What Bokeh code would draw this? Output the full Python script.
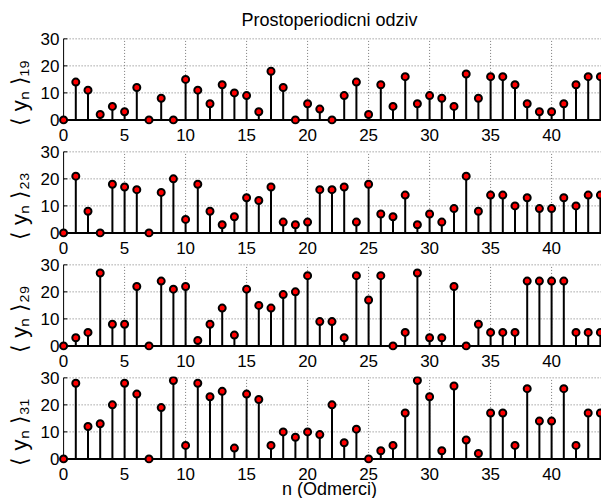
from bokeh.plotting import figure
from bokeh.layouts import column
from bokeh.models import Range1d, FixedTicker
from bokeh.embed import file_html
from bokeh.resources import INLINE

FONT = "Liberation Sans"

n = list(range(45))
x_ticks = [0, 5, 10, 15, 20, 25, 30, 35, 40]
y_ticks = [0, 10, 20, 30]

y19 = [0, 14, 11, 2, 5, 3, 12, 0, 8, 0, 15, 11, 6, 13, 10, 9, 3, 18, 12, 0, 6, 4, 0,
       9, 14, 2, 13, 5, 16, 6, 9, 8, 5, 17, 8, 16, 16, 13, 6, 3, 3, 6, 13, 16, 16]
y23 = [0, 21, 8, 0, 18, 17, 16, 0, 15, 20, 5, 18, 8, 3, 6, 13, 12, 17, 4, 3, 4, 16, 16,
       17, 4, 18, 7, 6, 14, 3, 7, 4, 9, 21, 8, 14, 14, 10, 13, 9, 9, 13, 10, 14, 14]
y29 = [0, 3, 5, 27, 8, 8, 22, 0, 24, 21, 22, 2, 8, 14, 4, 21, 15, 14, 19, 20, 26, 9, 9,
       3, 26, 17, 26, 0, 5, 27, 3, 3, 22, 0, 8, 5, 5, 5, 24, 24, 24, 24, 5, 5, 5]
y31 = [0, 28, 12, 13, 20, 28, 24, 0, 19, 29, 5, 28, 23, 25, 4, 24, 22, 5, 10, 8, 10, 9, 20,
       6, 11, 0, 3, 5, 17, 29, 23, 3, 27, 7, 2, 17, 17, 5, 26, 14, 14, 26, 5, 17, 17]

series = [y19, y23, y29, y31]
PAD = "\u00a0" * 4
ylabels = ["⟨ yₙ ⟩₁₉" + PAD, "⟨ yₙ ⟩₂₃" + PAD, "⟨ yₙ ⟩₂₉" + PAD, "⟨ yₙ ⟩₃₁" + PAD]
title_text = "Prostoperiodicni odziv"
xlabel_text = "n (Odmerci)"

X_START, X_END = -0.5, 44.09
Y_START, Y_END = -1.7, 30.5
GRID = "#777777"


def make(vals, ylabel, first=False, last=False):
    p = figure(output_backend="svg", toolbar_location=None,
               frame_width=544, frame_height=87,
               x_range=Range1d(X_START, X_END), y_range=Range1d(Y_START, Y_END),
               min_border_left=57, min_border_right=0,
               min_border_top=36 if first else 6,
               min_border_bottom=33 if last else 20,
               outline_line_color=None,
               background_fill_color="white", border_fill_color="white")
    p.xgrid.visible = False
    p.ygrid.visible = False

    # dotted grid
    p.segment(x0=x_ticks[1:], y0=y_ticks[0], x1=x_ticks[1:], y1=y_ticks[-1],
              line_color=GRID, line_width=1, line_dash="1 2")
    p.segment(x0=x_ticks[0], y0=y_ticks[1:], x1=X_END, y1=y_ticks[1:],
              line_color=GRID, line_width=1, line_dash="1 2")

    # axis line and ticks
    p.segment(x0=x_ticks[0], y0=y_ticks[0], x1=x_ticks[0], y1=y_ticks[-1],
              line_color="black", line_width=1)
    p.segment(x0=x_ticks[0], y0=y_ticks, x1=0.3, y1=y_ticks,
              line_color="black", line_width=1)
    p.segment(x0=x_ticks, y0=y_ticks[0], x1=x_ticks, y1=1.1,
              line_color="black", line_width=1)

    # baseline
    p.segment(x0=x_ticks[0], y0=0, x1=X_END, y1=0, line_color="black", line_width=2)

    # stems
    p.segment(x0=n, y0=0, x1=n, y1=vals, line_color="black", line_width=2)
    p.scatter(x=n, y=vals, marker="circle", size=7, fill_color="red",
              line_color="black", line_width=2)

    for ax in (p.xaxis[0], p.yaxis[0]):
        ax.axis_line_color = None
        ax.major_tick_line_color = None
        ax.minor_tick_line_color = None
        ax.major_label_text_font = FONT
        ax.major_label_text_font_size = "17px"
        ax.major_label_text_color = "black"
        ax.axis_label_text_font = FONT
        ax.axis_label_text_font_style = "normal"
        ax.axis_label_text_color = "black"

    p.xaxis.ticker = FixedTicker(ticks=x_ticks)
    p.yaxis.ticker = FixedTicker(ticks=y_ticks)
    p.xaxis.major_label_standoff = -2
    p.yaxis.major_label_standoff = -8
    p.yaxis.axis_label = ylabel
    p.yaxis.axis_label_text_font_size = "22px"
    p.yaxis.axis_label_standoff = 6

    if first:
        p.title.text = title_text
        p.title.align = "center"
        p.title.standoff = 15
        p.title.text_font = FONT
        p.title.text_font_size = "18px"
        p.title.text_font_style = "normal"
        p.title.text_color = "black"
    if last:
        p.xaxis.axis_label = xlabel_text
        p.xaxis.axis_label_text_font_size = "18px"
        p.xaxis.axis_label_standoff = -4
    return p


figs = [make(series[i], ylabels[i], first=(i == 0), last=(i == 3)) for i in range(4)]
layout = column(*figs, spacing=0)

open("out.html", "w").write(file_html(layout, INLINE))
